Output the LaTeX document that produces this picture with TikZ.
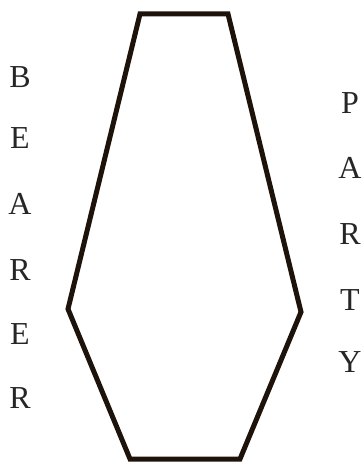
\documentclass[tikz,border=0pt]{standalone}
\usepackage{fontspec}
\setmainfont{Liberation Serif}
\begin{document}
\begin{tikzpicture}[x=1pt,y=-1pt,
  letter/.style={font=\fontsize{32}{32}\selectfont, text=black!85, inner sep=0pt, anchor=center},
  outline/.style={line width=5pt, draw=black!85!brown, line join=miter}]
\useasboundingbox (0,0) rectangle (362,465);
\coordinate (tl) at (140,14);
\coordinate (tr) at (228,14);
\coordinate (r) at (301,312);
\coordinate (br) at (240,459);
\coordinate (bl) at (130,459);
\coordinate (l) at (68,309);
\draw[outline] (tl) -- (tr) -- (r) -- (br) -- (bl) -- (l) -- cycle;
\node[letter] (b1) at (20,77) {B};
\node[letter] (b2) at (20,138) {E};
\node[letter] (b3) at (20,204) {A};
\node[letter] (b4) at (20,270) {R};
\node[letter] (b5) at (20,334) {E};
\node[letter] (b6) at (20,398) {R};
\node[letter] (p1) at (350,103) {P};
\node[letter] (p2) at (350,168) {A};
\node[letter] (p3) at (350,234) {R};
\node[letter] (p4) at (350,300) {T};
\node[letter] (p5) at (350,362) {Y};
\end{tikzpicture}
\end{document}
